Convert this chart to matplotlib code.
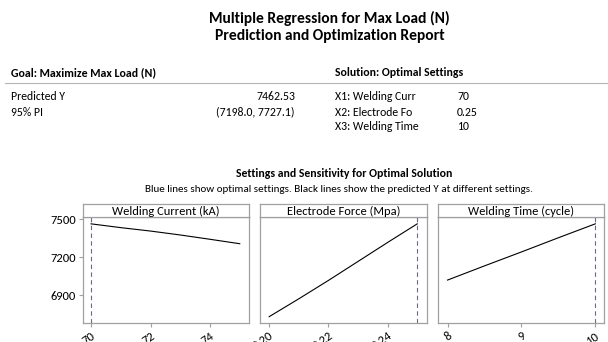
import matplotlib
matplotlib.use("Agg")
import matplotlib.pyplot as plt
from matplotlib.lines import Line2D

plt.rcParams['font.family'] = ['Carlito', 'DejaVu Sans']

# panel data
panel_titles = ['Welding Current (kA)', 'Electrode Force (Mpa)', 'Welding Time (cycle)']
current_x = [70, 71, 72, 73, 74, 75]
current_y = [7462, 7432, 7405, 7374, 7340, 7305]
force_x = [0.20, 0.21, 0.22, 0.23, 0.24, 0.25]
force_y = [6729, 6870, 7015, 7165, 7315, 7462]
time_x = [8, 8.5, 9, 9.5, 10]
time_y = [7018, 7130, 7240, 7352, 7462]
optimal = [70, 0.25, 10]
xticks = [[70, 72, 74], [0.20, 0.22, 0.24], [8, 9, 10]]
xticklabels = [['70', '72', '74'], ['0.20', '0.22', '0.24'], ['8', '9', '10']]
xlims = [(69.73, 75.31), (0.1969, 0.2533), (7.864, 10.118)]
yticks = [6900, 7200, 7500]

goal_rows = [('Predicted Y', '7462.53'), ('95% PI', '(7198.0, 7727.1)')]
setting_rows = [('X1: Welding Curr', '70'), ('X2: Electrode Fo', '0.25'), ('X3: Welding Time', '10')]

W, H = 608, 342
fig = plt.figure(figsize=(W / 100, H / 100), dpi=100)

def fx(px):
    return px / W

def fy(py):
    return 1 - py / H

# header text
fig.text(fx(329), fy(18), 'Multiple Regression for Max Load (N)', ha='center', va='center',
         fontsize=11.2, fontweight='bold')
fig.text(fx(330), fy(36), 'Prediction and Optimization Report', ha='center', va='center',
         fontsize=11.2, fontweight='bold')

fig.text(fx(11), fy(73), 'Goal: Maximize Max Load (N)', ha='left', va='center',
         fontsize=8.6, fontweight='bold')
fig.text(fx(335), fy(73), 'Solution: Optimal Settings', ha='left', va='center',
         fontsize=8.5, fontweight='bold')
fig.add_artist(Line2D([fx(5), 1], [fy(83), fy(83)], color='#b4b4b4', lw=0.8, transform=fig.transFigure))

row_y = [96, 112, 126]
for i, (lab, val) in enumerate(goal_rows):
    fig.text(fx(11), fy(row_y[i]), lab, ha='left', va='center', fontsize=8.5)
    fig.text(fx(295), fy(row_y[i]), val, ha='right', va='center', fontsize=8.5)
for i, (lab, val) in enumerate(setting_rows):
    fig.text(fx(335), fy(row_y[i]), lab, ha='left', va='center', fontsize=8.5)
    fig.text(fx(457), fy(row_y[i]), val, ha='left', va='center', fontsize=8.5)

fig.text(fx(344.5), fy(173), 'Settings and Sensitivity for Optimal Solution', ha='center', va='center',
         fontsize=8.5, fontweight='bold')
fig.text(fx(338.5), fy(189), 'Blue lines show optimal settings. Black lines show the predicted Y at different settings.',
         ha='center', va='center', fontsize=8.05)

# panels
lefts = [83, 260, 437.5]
widths = [166, 167, 166.5]
top_strip, top_plot, bottom = 204, 217, 323
series = [(current_x, current_y), (force_x, force_y), (time_x, time_y)]
edge = '#a0a0a0'

for i in range(3):
    ax = fig.add_axes([fx(lefts[i]), fy(bottom), widths[i] / W, (bottom - top_plot) / H])
    xs, ys = series[i]
    ax.plot(xs, ys, color='black', lw=0.8)
    ax.axvline(optimal[i], color='#4a6ad8', lw=0.8, ls=(0, (4, 3)))
    ax.set_xlim(*xlims[i])
    ax.set_ylim(6679, 7516)
    ax.set_xticks(xticks[i])
    ax.set_xticklabels(xticklabels[i], rotation=35, ha='right', rotation_mode='anchor')
    ax.set_yticks(yticks)
    if i == 0:
        ax.set_yticklabels([str(v) for v in yticks])
    else:
        ax.tick_params(axis='y', left=False, labelleft=False)
    ax.tick_params(colors=edge, labelcolor='black', labelsize=9, length=3, width=0.8, pad=2)
    for s in ax.spines.values():
        s.set_color(edge)
        s.set_linewidth(0.9)

    strip = fig.add_axes([fx(lefts[i]), fy(top_plot), widths[i] / W, (top_plot - top_strip) / H])
    strip.set_xticks([])
    strip.set_yticks([])
    for s in strip.spines.values():
        s.set_color(edge)
        s.set_linewidth(0.9)
    strip.text(0.5, 0.45, panel_titles[i], ha='center', va='center', fontsize=9,
               transform=strip.transAxes)

fig.savefig('out.png', dpi=100)
